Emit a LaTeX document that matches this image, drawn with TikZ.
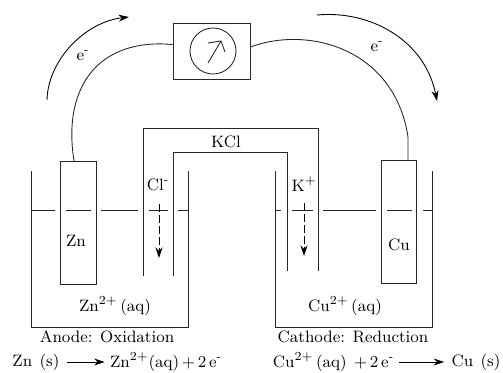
\documentclass[tikz,border=0pt]{standalone}
\usepackage{amsmath}
\usepackage{xcolor}
\usetikzlibrary{arrows.meta}
\tikzset{
    lab/.style={inner sep=0pt, font=\fontsize{9.4}{11}\selectfont},
    wall/.style={line width=0.55pt, black!85},
    thinline/.style={line width=0.5pt, black!85},
    electrode/.style={draw, wall, minimum width=35.5*0.02cm, inner sep=0pt},
    flow/.style={line width=0.5pt, -{Stealth[length=6pt,width=4pt]}},
    ionflow/.style={flow, dash pattern=on 4.5pt off 1.8pt}
}
\begin{document}
\begin{tikzpicture}[x=0.02cm, y=-0.02cm]
    \useasboundingbox (0,0) rectangle (503,372);

    % Medidor
    \node[draw, wall, minimum width=77*0.02cm, minimum height=55.5*0.02cm] (meter) at (211.5,51.5) {};
    \node[draw, circle, thinline, minimum size=46*0.02cm, inner sep=0pt] (dial) at (213,51) {};
    \coordinate (needlefoot) at (208,63);
    \coordinate (needletip) at (221,41);
    \draw[thinline] (needlefoot) -- (needletip);
    \draw[thinline] (208,43) -- (needletip) -- (225,52);

    % Eletrodos
    \node[electrode, minimum height=123*0.02cm] (zn) at (78.25,222.5) {};
    \node[electrode, minimum height=123*0.02cm] (cu) at (399,221.5) {};
    \node[lab] at (76,241) {Zn};
    \node[lab] at (399,245) {Cu};

    % Fios
    \coordinate (znwire) at (74,161);
    \coordinate (cuwire) at (408,137);
    \coordinate (cufoot) at (408,160);
    \draw[thinline] (meter.west) ++(0,-7) .. controls (100,38) and (62,85) .. (znwire);
    \draw[thinline] (meter.east) ++(0,-4.5) .. controls (310,25) and (395,50) .. (cuwire) -- (cufoot);

    % Becheres
    \draw[wall] (31,171) -- (31,327) -- (188,327) -- (188,171);
    \draw[wall] (275,171) -- (275,327) -- (432,327) -- (432,171);
    \foreach \a/\b in {31/55, 66/91, 101/138, 149/168, 178/188, 275/281, 292/313, 323/376, 387/412, 423/432}
        \draw[thinline] (\a,210) -- (\b,210);

    % Ponte salina
    \draw[wall] (143,276) -- (143,128) -- (318,128) -- (318,271);
    \draw[wall] (173,276) -- (173,152) -- (287,152) -- (287,271);
    \node[lab] at (226,142) {KCl};

    % Ions
    \node[lab] at (158,185) {Cl\textsuperscript{-}};
    \node[lab] at (304,184) {K$^{+}$};
    \coordinate (clstart) at (159,204);
    \coordinate (clend) at (159,258);
    \coordinate (kstart) at (304,203);
    \coordinate (kend) at (304,256);
    \draw[ionflow] (clstart) -- (clend);
    \draw[ionflow] (kstart) -- (kend);

    % Eletrons
    \coordinate (leftstart) at (47,100);
    \coordinate (leftend) at (129,17);
    \coordinate (rightstart) at (317,15);
    \coordinate (rightend) at (437,101);
    \draw[flow] (leftstart) .. controls (48,60) and (85,22) .. (leftend);
    \draw[flow] (rightstart) .. controls (370,10) and (425,40) .. (rightend);
    \node[lab] at (83,56) {e\textsuperscript{-}};
    \node[lab] at (377,47) {e\textsuperscript{-}};

    % Textos
    \node[lab] at (115,306) {Zn$^{2+}$\,(aq)};
    \node[lab] at (345,306) {Cu$^{2+}$\,(aq)};
    \node[lab] at (107,337) {Anode: Oxidation};
    \node[lab] at (353,337) {Cathode: Reduction};

    % Equacoes
    \node[lab] (znsolid) at (36,362) {Zn\;\,(s)};
    \node[lab] (znion) at (166,362) {Zn$^{2+}$(aq)\,+\,2\,e\textsuperscript{-}};
    \node[lab] (cuion) at (333.5,362) {Cu$^{2+}$\,(aq)\;\,+\,2\,e\textsuperscript{-}};
    \node[lab] (cusolid) at (476,362) {Cu\;\,(s)};
    \draw[flow] (znsolid.east) ++(7,0) -- ([xshift=-5*0.02cm]znion.west);
    \draw[flow] (cuion.east) ++(5,0) -- ([xshift=-7*0.02cm]cusolid.west);
\end{tikzpicture}
\end{document}
